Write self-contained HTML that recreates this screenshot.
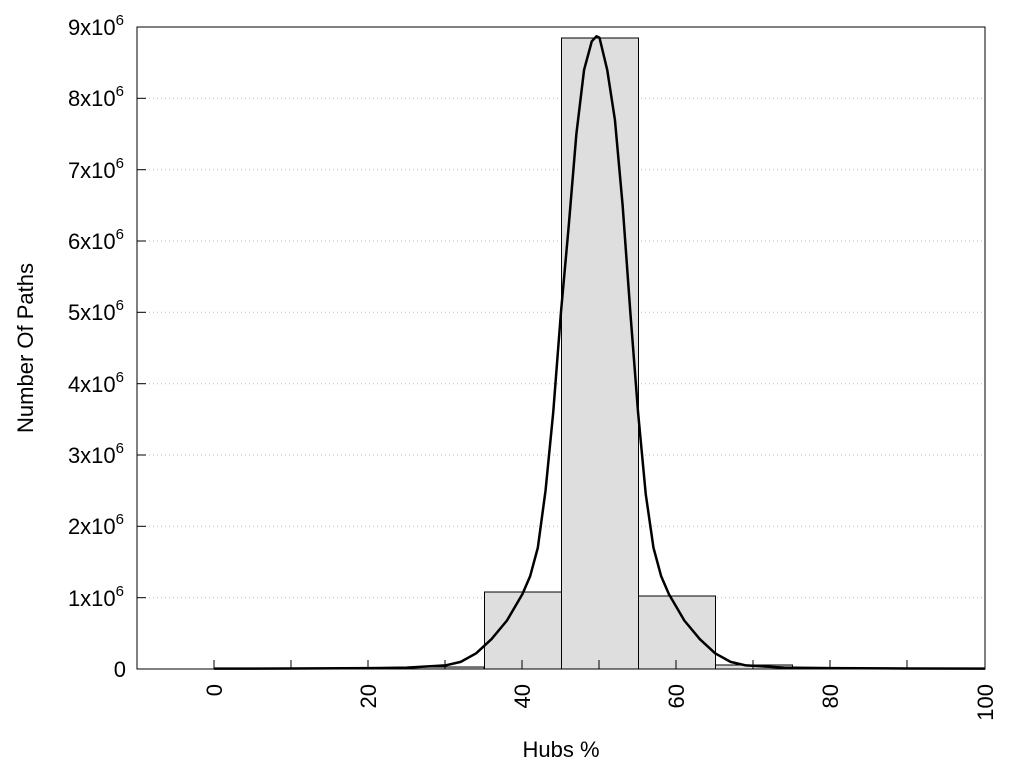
<!DOCTYPE html>
<html><head><meta charset="utf-8"><style>
html,body{margin:0;padding:0;background:#fff;}
svg{display:block;font-family:"Liberation Sans",sans-serif;}
</style></head><body>
<svg width="1024" height="768" viewBox="0 0 1024 768">
<g stroke="#bbb" stroke-width="1" stroke-dasharray="1,3">
<line x1="137" x2="985" y1="597.7" y2="597.7"/>
<line x1="137" x2="985" y1="526.3" y2="526.3"/>
<line x1="137" x2="985" y1="455" y2="455"/>
<line x1="137" x2="985" y1="383.7" y2="383.7"/>
<line x1="137" x2="985" y1="312.3" y2="312.3"/>
<line x1="137" x2="985" y1="241" y2="241"/>
<line x1="137" x2="985" y1="169.7" y2="169.7"/>
<line x1="137" x2="985" y1="98.3" y2="98.3"/>
</g>
<g fill="#dedede" stroke="#000" stroke-width="1">
<rect x="407" y="667" width="77" height="2"/>
<rect x="484.5" y="592" width="77" height="77"/>
<rect x="561.5" y="38" width="77" height="631"/>
<rect x="638.5" y="596" width="77" height="73"/>
<rect x="715.5" y="665" width="77" height="4"/>
</g>
<g stroke="#000" stroke-width="1">
<line x1="214" x2="214" y1="669" y2="660"/><line x1="291" x2="291" y1="669" y2="660"/>
<line x1="368" x2="368" y1="669" y2="660"/><line x1="445" x2="445" y1="669" y2="660"/>
<line x1="522" x2="522" y1="669" y2="660"/><line x1="599" x2="599" y1="669" y2="660"/>
<line x1="676" x2="676" y1="669" y2="660"/><line x1="753" x2="753" y1="669" y2="660"/>
<line x1="830" x2="830" y1="669" y2="660"/><line x1="907" x2="907" y1="669" y2="660"/>
<line x1="137" x2="146" y1="597.7" y2="597.7"/><line x1="137" x2="146" y1="526.3" y2="526.3"/>
<line x1="137" x2="146" y1="455" y2="455"/><line x1="137" x2="146" y1="383.7" y2="383.7"/>
<line x1="137" x2="146" y1="312.3" y2="312.3"/><line x1="137" x2="146" y1="241" y2="241"/>
<line x1="137" x2="146" y1="169.7" y2="169.7"/><line x1="137" x2="146" y1="98.3" y2="98.3"/>
</g>
<g transform="translate(214,669) scale(7.71,-71.33)">
<polyline fill="none" stroke="#000" stroke-width="2.5" vector-effect="non-scaling-stroke" stroke-linejoin="round"
points="0,0.005 10,0.007 20,0.012 25,0.02 30,0.05 32,0.1 34,0.22 36,0.42 38,0.68 40,1.05 41,1.3 42,1.7 43,2.5 44,3.6 45,5.0 46,6.2 47,7.5 48,8.4 49,8.8 49.6,8.87 50,8.85 51,8.4 52,7.7 53,6.5 54,5.0 55,3.6 56,2.45 57,1.7 58,1.3 59,1.05 61,0.68 63,0.42 65,0.22 67,0.1 69,0.05 74,0.02 80,0.012 90,0.007 100,0.005"/>
</g>
<rect x="137" y="27" width="848" height="642" fill="none" stroke="#000" stroke-width="1"/>
<g font-size="22" text-anchor="end" fill="#000">
<text x="126" y="677">0</text>
<text x="124" y="606">1x10<tspan font-size="15" dy="-10">6</tspan></text>
<text x="124" y="534">2x10<tspan font-size="15" dy="-10">6</tspan></text>
<text x="124" y="463">3x10<tspan font-size="15" dy="-10">6</tspan></text>
<text x="124" y="392">4x10<tspan font-size="15" dy="-10">6</tspan></text>
<text x="124" y="320">5x10<tspan font-size="15" dy="-10">6</tspan></text>
<text x="124" y="249">6x10<tspan font-size="15" dy="-10">6</tspan></text>
<text x="124" y="178">7x10<tspan font-size="15" dy="-10">6</tspan></text>
<text x="124" y="106">8x10<tspan font-size="15" dy="-10">6</tspan></text>
<text x="124" y="35">9x10<tspan font-size="15" dy="-10">6</tspan></text>
</g>
<g font-size="22" text-anchor="end" fill="#000">
<text transform="translate(222,684) rotate(-90)">0</text>
<text transform="translate(376,684) rotate(-90)">20</text>
<text transform="translate(530,684) rotate(-90)">40</text>
<text transform="translate(684,684) rotate(-90)">60</text>
<text transform="translate(838,684) rotate(-90)">80</text>
<text transform="translate(993,684) rotate(-90)">100</text>
</g>
<text x="561" y="757" font-size="22" text-anchor="middle">Hubs %</text>
<text transform="translate(33,348) rotate(-90)" font-size="22" text-anchor="middle">Number Of Paths</text>
</svg>
</body></html>
